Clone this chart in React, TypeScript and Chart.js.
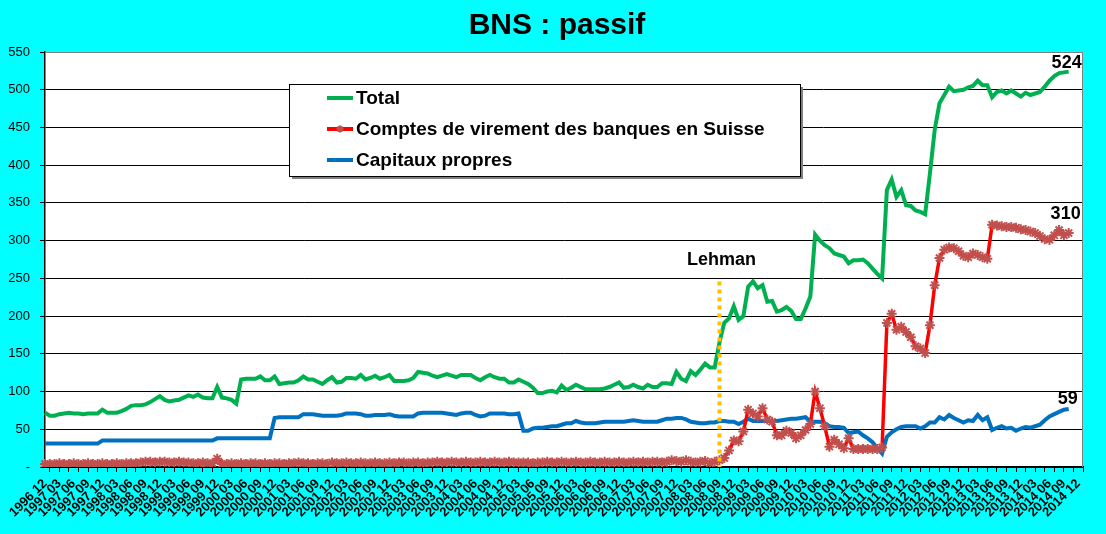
import { useEffect, useRef } from 'react'
import { Chart, registerables } from 'chart.js'

Chart.register(...registerables)

const FONT = "Arial, 'Liberation Sans', sans-serif"

// monthly categories 1996 12 .. 2015 01 (the last one only pads the axis end)
const months: string[] = []
for (let k = 0; k < 218; k++) {
  const t = 1996 * 12 + 11 + k
  months.push(`${Math.floor(t / 12)} ${String((t % 12) + 1).padStart(2, '0')}`)
}

const seriesNames = ['Total', 'Comptes de virement des banques en Suisse', 'Capitaux propres']

// bn CHF, one value per month from 1996 12 to 2014 10
const total = [
  72, 68, 68, 70, 71, 72, 71, 71, 70, 71,
  71, 71, 76, 72, 72, 72, 74, 77, 81, 82,
  82, 83, 86, 90, 94, 89, 87, 88, 89, 92,
  95, 93, 96, 92, 91, 91, 106, 92, 91, 89,
  84, 116, 117, 117, 117, 120, 115, 115, 120, 110,
  111, 112, 112, 115, 120, 116, 116, 113, 110, 115,
  119, 112, 113, 118, 118, 117, 122, 116, 118, 121,
  117, 119, 122, 114, 114, 114, 115, 118, 126, 125,
  124, 121, 119, 121, 123, 121, 119, 122, 122, 122,
  118, 115, 119, 122, 119, 117, 117, 112, 112, 116,
  113, 110, 105, 98, 98, 100, 101, 99, 108, 102,
  105, 109, 106, 103, 103, 103, 103, 104, 106, 109,
  112, 105, 106, 109, 106, 104, 109, 106, 106, 111,
  111, 110, 126, 117, 114, 127, 122, 129, 137, 132,
  132, 165, 191, 197, 213, 195, 200, 239, 246, 237,
  241, 219, 220, 206, 208, 212, 207, 196, 196, 210,
  226, 308, 300, 294, 290, 283, 281, 279, 270, 274,
  274, 275, 270, 263, 256, 250, 367, 381, 358, 367,
  347, 346, 340, 338, 335, 389, 447, 482, 493, 504,
  498, 499, 500, 503, 505, 512, 506, 506, 490, 497,
  499, 495, 499, 495, 491, 496, 493, 495, 497, 504,
  512, 518, 522, 523, 524,
]

const comptes = [
  4, 4, 4, 5, 4, 4, 5, 4, 4, 5,
  4, 4, 5, 4, 4, 5, 4, 5, 5, 5,
  6, 7, 7, 6, 7, 7, 6, 6, 7, 6,
  6, 5, 5, 6, 5, 5, 11, 4, 4, 5,
  4, 5, 4, 5, 5, 4, 5, 4, 5, 5,
  4, 5, 5, 6, 5, 5, 4, 5, 5, 4,
  6, 5, 5, 6, 5, 5, 6, 5, 5, 6,
  5, 5, 6, 5, 6, 6, 5, 6, 6, 5,
  6, 6, 7, 6, 6, 7, 6, 6, 7, 6,
  6, 7, 6, 6, 7, 6, 6, 7, 6, 6,
  6, 6, 5, 6, 6, 7, 6, 6, 7, 6,
  6, 7, 6, 6, 7, 6, 6, 7, 6, 6,
  7, 6, 6, 7, 6, 7, 6, 7, 7, 6,
  7, 9, 8, 7, 9, 7, 6, 7, 8, 5,
  7, 9, 12, 22, 35, 34, 47, 76, 71, 67,
  78, 63, 60, 42, 42, 48, 45, 38, 42, 49,
  57, 100, 78, 54, 27, 36, 30, 25, 38, 24,
  24, 24, 24, 24, 24, 26, 191, 203, 182, 186,
  179, 172, 160, 157, 151, 188, 241, 277, 288, 291,
  290, 286, 280, 278, 283, 281, 278, 276, 321, 320,
  319, 318, 318, 317, 315, 314, 312, 310, 306, 302,
  301, 307, 314, 307, 310,
]

const capitaux = [
  31, 31, 31, 31, 31, 31, 31, 31, 31, 31,
  31, 31, 35, 35, 35, 35, 35, 35, 35, 35,
  35, 35, 35, 35, 35, 35, 35, 35, 35, 35,
  35, 35, 35, 35, 35, 35, 38, 38, 38, 38,
  38, 38, 38, 38, 38, 38, 38, 38, 65, 66,
  66, 66, 66, 66, 70, 70, 70, 69, 68, 68,
  68, 68, 69, 71, 71, 71, 70, 68, 68, 69,
  69, 69, 70, 68, 67, 67, 67, 67, 71, 72,
  72, 72, 72, 72, 71, 70, 69, 71, 72, 72,
  69, 67, 68, 71, 71, 71, 71, 70, 70, 71,
  48, 48, 51, 52, 52, 53, 54, 54, 56, 58,
  58, 61, 59, 58, 58, 58, 59, 60, 60, 60,
  60, 60, 61, 62, 61, 60, 60, 60, 60, 62,
  64, 64, 65, 65, 63, 60, 59, 58, 58, 59,
  59, 61, 61, 60, 60, 57, 60, 64, 61, 61,
  61, 61, 61, 61, 62, 63, 64, 64, 65, 66,
  60, 60, 60, 58, 54, 53, 53, 52, 45, 46,
  47, 42, 38, 33, 25, 18, 40, 46, 50, 53,
  54, 54, 54, 51, 54, 59, 59, 66, 63, 69,
  65, 62, 59, 62, 61, 69, 62, 66, 49, 52,
  54, 51, 52, 48, 51, 53, 52, 54, 56, 62,
  67, 70, 73, 76, 77,
]

const endLabels = ['524', '310', '59']
const lehmanMonth = '2008 09'

const GREEN = '#00B050'
const RED = '#FF0000'
const MARKER = '#C0504D'
const BLUE = '#0070C0'

const drawStar = (ctx: CanvasRenderingContext2D, x: number, y: number, r: number) => {
  ctx.beginPath()
  ctx.moveTo(x - r, y); ctx.lineTo(x + r, y)
  ctx.moveTo(x, y - r); ctx.lineTo(x, y + r)
  const d = r * 0.707
  ctx.moveTo(x - d, y - d); ctx.lineTo(x + d, y + d)
  ctx.moveTo(x - d, y + d); ctx.lineTo(x + d, y - d)
  ctx.stroke()
}

const decor = {
  id: 'decor',
  beforeDraw(chart: any) {
    const { ctx, chartArea: a, width, height } = chart
    ctx.save()
    ctx.fillStyle = '#00FFFF'
    ctx.fillRect(0, 0, width, height)
    ctx.fillStyle = '#FFFFFF'
    ctx.fillRect(a.left, a.top, a.right - a.left, a.bottom - a.top)
    ctx.restore()
  },
  afterDatasetsDraw(chart: any) {
    const { ctx, scales } = chart
    const xs = scales.x
    const ys = scales.y
    ctx.save()
    // Lehman marker
    const lx = xs.getPixelForValue(months.indexOf(lehmanMonth))
    ctx.strokeStyle = '#FFC000'
    ctx.lineWidth = 4
    ctx.setLineDash([4, 4])
    ctx.beginPath()
    ctx.moveTo(lx, ys.getPixelForValue(246))
    ctx.lineTo(lx, ys.getPixelForValue(0))
    ctx.stroke()
    ctx.setLineDash([])
    ctx.fillStyle = '#000'
    ctx.font = `bold 18px ${FONT}`
    ctx.textAlign = 'center'
    ctx.textBaseline = 'middle'
    ctx.fillText('Lehman', lx + 2, ys.getPixelForValue(274))

    // end values
    const last = total.length - 1
    const ex = xs.getPixelForValue(last)
    ctx.textAlign = 'right'
    ctx.fillText(endLabels[0], ex + 13, ys.getPixelForValue(total[last]) - 9)
    ctx.fillText(endLabels[1], ex + 12, ys.getPixelForValue(comptes[last]) - 19)
    ctx.fillText(endLabels[2], ex + 9, ys.getPixelForValue(capitaux[last]) - 10)
    ctx.restore()
  },
  afterDraw(chart: any) {
    const { ctx, chartArea: a } = chart
    ctx.save()
    // frame on top and right of plot
    ctx.strokeStyle = '#808080'
    ctx.lineWidth = 1
    ctx.beginPath()
    ctx.moveTo(a.left, a.top + 0.5)
    ctx.lineTo(a.right - 0.5, a.top + 0.5)
    ctx.lineTo(a.right - 0.5, a.bottom)
    ctx.stroke()

    // title
    ctx.fillStyle = '#000'
    ctx.font = `bold 30px ${FONT}`
    ctx.textAlign = 'center'
    ctx.textBaseline = 'middle'
    ctx.fillText('BNS : passif', 557, 26)

    // legend box
    const bx = 289, by = 84, bw = 511, bh = 92
    ctx.fillStyle = '#808080'
    ctx.fillRect(bx + 3, by + 3, bw, bh)
    ctx.fillStyle = '#FFFFFF'
    ctx.fillRect(bx, by, bw, bh)
    ctx.strokeStyle = '#000'
    ctx.strokeRect(bx + 0.5, by + 0.5, bw, bh)
    const colors = [GREEN, RED, BLUE]
    const rows = [98, 129, 160]
    ctx.font = `bold 19px ${FONT}`
    ctx.textAlign = 'left'
    seriesNames.forEach((name, i) => {
      ctx.strokeStyle = colors[i]
      ctx.lineWidth = 4
      ctx.beginPath()
      ctx.moveTo(327, rows[i])
      ctx.lineTo(353, rows[i])
      ctx.stroke()
      if (i === 1) {
        ctx.strokeStyle = MARKER
        ctx.lineWidth = 2
        drawStar(ctx, 340, rows[i], 3.5)
      }
      ctx.fillStyle = '#000'
      ctx.fillText(name, 356, rows[i] + 1)
    })
    ctx.restore()
  },
}

const BnsChart = () => {
  const canvasRef = useRef<HTMLCanvasElement>(null)

  useEffect(() => {
    const chart = new Chart(canvasRef.current!, {
      type: 'line',
      data: {
        labels: months,
        datasets: [
          {
            label: seriesNames[1],
            data: comptes,
            borderColor: RED,
            borderWidth: 3.5,
            pointStyle: 'star',
            pointRadius: 5,
            pointBorderWidth: 2,
            pointBorderColor: MARKER,
            pointBackgroundColor: MARKER,
            order: 0,
          },
          {
            label: seriesNames[0],
            data: total,
            borderColor: GREEN,
            borderWidth: 4,
            pointRadius: 0,
            order: 1,
          },
          {
            label: seriesNames[2],
            data: capitaux,
            borderColor: BLUE,
            borderWidth: 4,
            pointRadius: 0,
            order: 2,
          },
        ],
      },
      options: {
        animation: false,
        responsive: true,
        maintainAspectRatio: false,
        layout: { padding: { top: 52, right: 23, left: 0, bottom: 0 } },
        elements: { line: { tension: 0 } },
        plugins: {
          legend: { display: false },
          title: { display: false },
          tooltip: { enabled: false },
        },
        scales: {
          x: {
            type: 'category',
            offset: false,
            grid: {
              drawOnChartArea: false,
              drawTicks: true,
              tickLength: 5,
              lineWidth: 1,
              tickColor: (c: any) => (c.index % 2 === 1 ? '#000' : 'rgba(0,0,0,0)'),
            },
            border: { color: '#000', width: 1.5 },
            ticks: {
              autoSkip: false,
              maxRotation: 45,
              minRotation: 45,
              padding: 4,
              color: '#000',
              font: { family: FONT, size: 13, weight: 'bold' },
              callback: (_v: any, i: number) => (i % 3 === 0 ? months[i] : ''),
            },
            afterFit: (s: any) => {
              s.height = 67
              s.paddingLeft = 0
              s.paddingRight = 0
            },
          },
          y: {
            min: 0,
            max: 550,
            ticks: {
              stepSize: 50,
              padding: 10,
              color: '#000',
              font: { family: FONT, size: 13 },
              callback: (v: any) => (v === 0 ? '-' : String(v)),
            },
            grid: {
              color: (c: any) => (c.tick && c.tick.value === 550 ? '#808080' : '#000'),
              lineWidth: 1,
              tickLength: 5,
              tickColor: '#000',
            },
            border: { color: '#000', width: 1.5 },
            afterFit: (s: any) => {
              s.width = 45
              s.paddingTop = 0
              s.paddingBottom = 0
            },
          },
        },
      },
      plugins: [decor],
    } as any)

    return () => chart.destroy()
  }, [])

  return (
    <div style={{ position: 'fixed', left: 0, top: 0, width: 1106, height: 534, background: '#00FFFF' }}>
      <canvas ref={canvasRef}></canvas>
    </div>
  )
}

export default BnsChart
